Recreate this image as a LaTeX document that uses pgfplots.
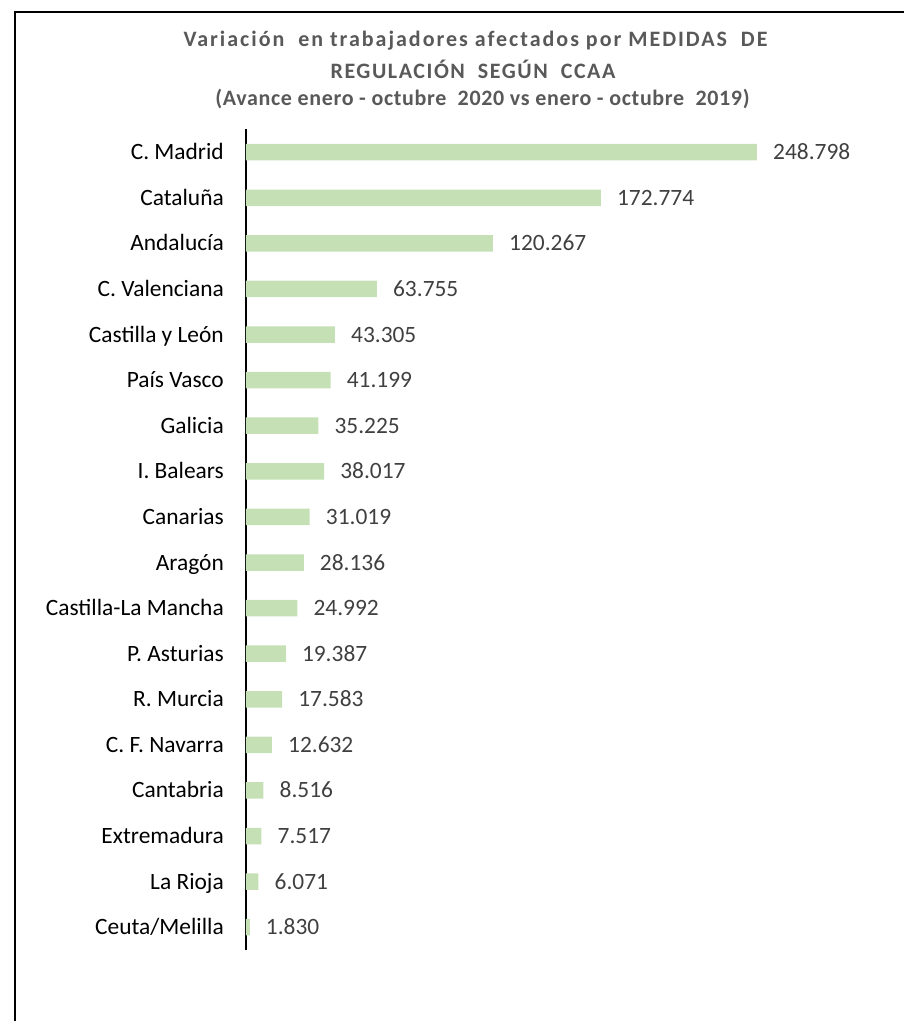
\documentclass[border=0pt]{standalone}
\usepackage{fontspec}
\setmainfont{Carlito}
\usepackage{pgfplots}
\pgfplotsset{compat=1.18}
\usepackage{pgfplotstable}
\definecolor{bargreen}{HTML}{C5E0B4}
\definecolor{titlegray}{HTML}{595959}
\definecolor{valgray}{HTML}{404040}

\pgfplotstableread[col sep=comma]{
i,v,lab
0,248798,248.798
1,172774,172.774
2,120267,120.267
3,63755,63.755
4,43305,43.305
5,41199,41.199
6,35225,35.225
7,38017,38.017
8,31019,31.019
9,28136,28.136
10,24992,24.992
11,19387,19.387
12,17583,17.583
13,12632,12.632
14,8516,8.516
15,7517,7.517
16,6071,6.071
17,1830,1.830
}\data

\begin{document}
\begin{tikzpicture}[x=1pt,y=1pt]
\useasboundingbox (0,0) rectangle (904,1021);
\draw[line width=2pt, black] (15,0) -- (15,1009) -- (904,1009);
\node[anchor=base, text=titlegray, font=\bfseries\fontsize{22pt}{26pt}\selectfont\addfontfeature{LetterSpace=9}] at (475.5,974.3) {Variación\ \ en trabajadores\ afectados\ por MEDIDAS\ \ DE};
\node[anchor=base, text=titlegray, font=\bfseries\fontsize{22pt}{26pt}\selectfont\addfontfeature{LetterSpace=7}] at (473,942) {REGULACIÓN\ \ SEGÚN\ \ CCAA};
\node[anchor=base, text=titlegray, font=\bfseries\fontsize{22pt}{26pt}\selectfont\addfontfeature{LetterSpace=3}] at (482.5,915) {(Avance enero - octubre\ \ 2020 vs enero - octubre\ \ 2019)};
\begin{axis}[
  at={(246pt,71pt)}, anchor=south west,
  scale only axis, width=657.2pt, height=820.6pt,
  xbar, bar width=16.5pt, bar shift=0pt,
  xmin=0, xmax=320000, ymin=-0.5, ymax=17.5, y dir=reverse,
  axis x line=none, axis y line=left,
  axis line style={-, black, line width=1.3pt},
  ytick={0,...,17},
  yticklabels={C. Madrid, Cataluña, Andalucía, C. Valenciana, Castilla y León, País Vasco, Galicia, I. Balears, Canarias, Aragón, Castilla-La Mancha, P. Asturias, R. Murcia, C. F. Navarra, Cantabria, Extremadura, La Rioja, Ceuta/Melilla},
  major tick length=0pt,
  yticklabel style={anchor=east, inner sep=0pt, xshift=-22pt, text height=15pt, text depth=0pt, font=\fontsize{23.4pt}{28pt}\selectfont, text=black},
  point meta=explicit symbolic,
  nodes near coords,
  nodes near coords style={anchor=west, inner sep=0pt, xshift=16pt, text height=15pt, text depth=0pt, font=\fontsize{23.4pt}{28pt}\selectfont, text=valgray},
  clip=false,
]
\addplot[fill=bargreen, draw=none] table[x=v, y=i, meta=lab] {\data};
\end{axis}
\end{tikzpicture}
\end{document}
